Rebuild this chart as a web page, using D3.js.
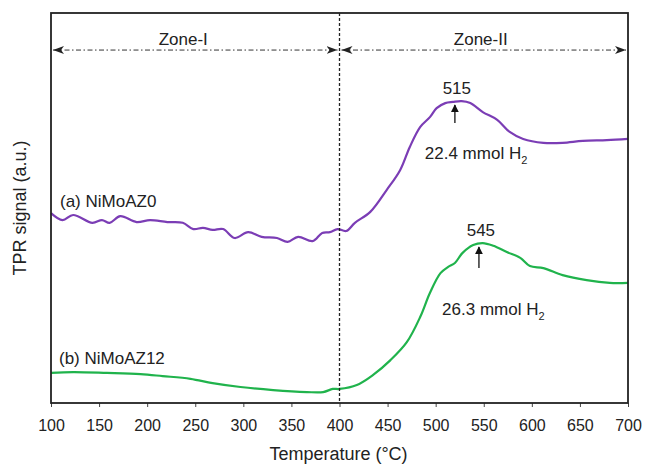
<!DOCTYPE html>
<html>
<head>
<meta charset="utf-8">
<script src="https://cdn.jsdelivr.net/npm/d3@7"></script>
<style>
  body { margin: 0; background: #fff; }
  text { font-family: "Liberation Sans", Arial, sans-serif; fill: #222; }
</style>
</head>
<body>
<script>
// (a) NiMoAZ0
var tempA = [100, 112, 123, 143, 153, 161, 172, 189, 203, 221, 237, 248, 258, 268, 279, 291, 305, 319, 335,
  346, 357, 372, 382, 390, 398, 407, 416, 432, 449, 463, 473, 484, 494, 501, 510, 518, 527, 536, 549, 564,
  577, 591, 612, 632, 653, 678, 700];
var signalA = [48.7, 46.9, 48.2, 46.2, 46.9, 46.2, 47.9, 46.4, 46.9, 46.4, 46.2, 44.6, 44.9, 44.4, 44.6, 42.3, 43.8, 42.6, 42.3,
  41.3, 42.6, 41.5, 43.6, 43.8, 44.6, 44.1, 46.2, 49.0, 54.6, 59.7, 65.6, 70.8, 73.3, 75.6, 76.9, 77.2, 77.4, 76.9, 74.6, 72.6,
  69.5, 67.7, 66.7, 66.7, 67.2, 67.4, 67.7];

// (b) NiMoAZ12
var tempB = [100, 123, 158, 193, 216, 245, 268, 297, 331, 366, 383, 393, 400, 418, 435, 453, 470, 484, 494,
  505, 513, 520, 528, 539, 549, 560, 574, 588, 598, 612, 632, 657, 681, 700];
var signalB = [7.7, 7.9, 7.7, 7.4, 6.9, 6.2, 5.1, 4.1, 3.3, 2.8, 2.8, 3.6, 3.6, 4.6, 7.2, 11.0, 15.6, 22.1, 28.2,
  33.3, 34.9, 35.9, 38.5, 40.5, 41.0, 40.3, 38.7, 37.2, 35.1, 34.6, 32.8, 31.5, 30.8, 30.8];

var xTicks = [100, 150, 200, 250, 300, 350, 400, 450, 500, 550, 600, 650, 700];
var zoneSplit = 400;
var zoneNames = ["Zone-I", "Zone-II"];
var peakTemps = [520, 545];
var peakLabels = ["515", "545"];
var uptakeLabels = ["22.4", "26.3"];

var width = 645, height = 466;
var margin = {top: 13, right: 17, bottom: 63, left: 51};
var w = width - margin.left - margin.right;
var h = height - margin.top - margin.bottom;

var svg = d3.select("body").append("svg")
    .attr("width", width)
    .attr("height", height);

var defs = svg.append("defs");
defs.append("marker")
    .attr("id", "barb")
    .attr("viewBox", "0 -5 12 10")
    .attr("refX", 11).attr("refY", 0)
    .attr("markerWidth", 12).attr("markerHeight", 10)
    .attr("markerUnits", "userSpaceOnUse")
    .attr("orient", "auto-start-reverse")
  .append("path")
    .attr("d", "M0,-4L11,0L0,4L3,0Z")
    .style("fill", "#222");
defs.append("marker")
    .attr("id", "tri")
    .attr("viewBox", "0 -5 10 10")
    .attr("refX", 9).attr("refY", 0)
    .attr("markerWidth", 8).attr("markerHeight", 8)
    .attr("markerUnits", "userSpaceOnUse")
    .attr("orient", "auto")
  .append("path")
    .attr("d", "M0,-5L10,0L0,5Z")
    .style("fill", "#111");

var g = svg.append("g")
    .attr("transform", "translate(" + margin.left + "," + margin.top + ")");

var x = d3.scaleLinear().domain([100, 700]).range([0, w]);
var y = d3.scaleLinear().domain([0, 100]).range([h, 0]);

//x axis
var xAxis = d3.axisBottom(x).tickValues(xTicks).tickSize(4).tickSizeOuter(0).tickPadding(13);
var xG = g.append("g")
    .attr("transform", "translate(0," + h + ")")
    .call(xAxis);
xG.select(".domain").remove();
xG.selectAll("line").style("stroke", "#444");
xG.selectAll("text").style("font-size", "16px").style("fill", "#222")
    .style("font-family", "'Liberation Sans', Arial, sans-serif");

//curves
var line = d3.line()
    .x(function(d) { return x(d[0]); })
    .y(function(d) { return y(d[1]); })
    .curve(d3.curveCatmullRom.alpha(0.5));

g.append("path")
    .datum(d3.zip(tempB, signalB))
    .attr("d", line)
    .style("fill", "none")
    .style("stroke", "#20b34c")
    .style("stroke-width", 2.2);

g.append("path")
    .datum(d3.zip(tempA, signalA))
    .attr("d", line)
    .style("fill", "none")
    .style("stroke", "#7b3db5")
    .style("stroke-width", 2.2);

//zone divider
g.append("line")
    .attr("x1", x(zoneSplit)).attr("x2", x(zoneSplit))
    .attr("y1", 0).attr("y2", h)
    .style("stroke", "#222")
    .style("stroke-width", 1.3)
    .style("stroke-dasharray", "3,2");

//zone arrows
var zoneY = y(90.5);
var zoneSpans = [[100, zoneSplit], [zoneSplit, 700]];
zoneSpans.forEach(function(s, i) {
  g.append("line")
      .attr("x1", x(s[0]) + 2).attr("x2", x(s[1]) - 2)
      .attr("y1", zoneY).attr("y2", zoneY)
      .attr("marker-start", "url(#barb)")
      .attr("marker-end", "url(#barb)")
      .style("stroke", "#333")
      .style("stroke-width", 1)
      .style("stroke-dasharray", "5,2.5,1.5,2.5");
  g.append("text")
      .attr("x", x((s[0] + s[1]) / 2) + (i == 0 ? -12 : -3))
      .attr("y", zoneY - 5)
      .style("text-anchor", "middle")
      .style("font-size", "17px")
      .text(zoneNames[i]);
});

//frame
g.append("rect")
    .attr("x", 0).attr("y", 0)
    .attr("width", w).attr("height", h)
    .style("fill", "none")
    .style("stroke", "#222")
    .style("stroke-width", 1.8);

//sample labels
g.append("text")
    .attr("x", 9).attr("y", y(51.7))
    .attr("dy", "0.35em")
    .style("font-size", "17px")
    .text("(a) NiMoAZ0");
g.append("text")
    .attr("x", 8).attr("y", y(11.5))
    .attr("dy", "0.35em")
    .style("font-size", "17px")
    .text("(b) NiMoAZ12");

//peak annotations
var peakTextY = [80.8, 44.4];
var arrowFrom = [71.8, 34.6];
var arrowTo = [76.4, 40.0];
var uptakePos = [[542, 64.1], [560, 24.1]];
peakTemps.forEach(function(t, i) {
  g.append("line")
      .attr("x1", x(t)).attr("x2", x(t))
      .attr("y1", y(arrowFrom[i])).attr("y2", y(arrowTo[i]))
      .attr("marker-end", "url(#tri)")
      .style("stroke", "#111")
      .style("stroke-width", 1.3);
  g.append("text")
      .attr("x", x(t + 2)).attr("y", y(peakTextY[i]))
      .attr("dy", "0.35em")
      .style("text-anchor", "middle")
      .style("font-size", "17px")
      .text(peakLabels[i]);
  var tx = g.append("text")
      .attr("x", x(uptakePos[i][0])).attr("y", y(uptakePos[i][1]))
      .attr("dy", "0.35em")
      .style("text-anchor", "middle")
      .style("font-size", "17px");
  tx.append("tspan").text(uptakeLabels[i] + " mmol H");
  tx.append("tspan").attr("dy", "5").style("font-size", "11px").text("2");
});

//axis titles
g.append("text")
    .attr("x", w / 2 - 1)
    .attr("y", h + 57)
    .style("text-anchor", "middle")
    .style("font-size", "18px")
    .text("Temperature (°C)");

g.append("text")
    .attr("transform", "rotate(-90)")
    .attr("x", -h / 2)
    .attr("y", -margin.left + 26)
    .style("text-anchor", "middle")
    .style("font-size", "18px")
    .text("TPR signal (a.u.)");
</script>
</body>
</html>
